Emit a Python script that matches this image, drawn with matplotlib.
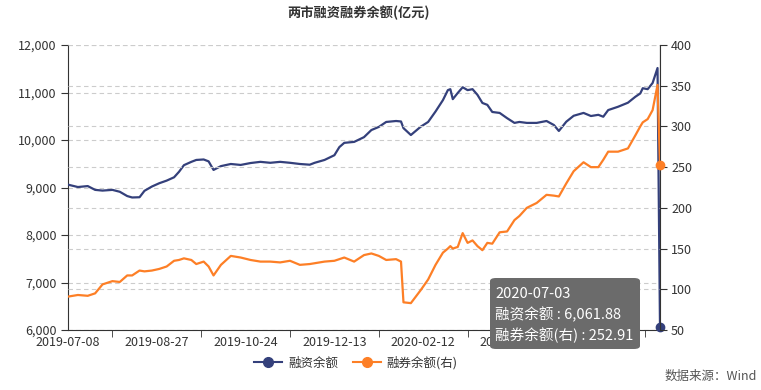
import numpy as np
import pandas as pd
import matplotlib
matplotlib.use("Agg")
import matplotlib.pyplot as plt
from matplotlib.lines import Line2D
from matplotlib.patches import FancyBboxPatch

plt.rcParams['font.family'] = ['Noto Sans CJK SC', 'DejaVu Sans']

# trading calendar (SSE/SZSE) 2019-07-08 .. 2020-07-03
holidays = ["2019-09-13", "2019-10-01", "2019-10-02", "2019-10-03", "2019-10-04",
            "2019-10-07", "2020-01-01", "2020-01-24", "2020-01-27", "2020-01-28",
            "2020-01-29", "2020-01-30", "2020-01-31", "2020-04-06", "2020-05-01",
            "2020-05-04", "2020-05-05", "2020-06-25", "2020-06-26"]
days = pd.bdate_range("2019-07-08", "2020-07-03")
days = days[~days.isin(pd.to_datetime(holidays))]
dates = [d.strftime("%Y-%m-%d") for d in days]

# values at these trading-day positions
day_idx = [0, 4, 8, 11, 14, 18, 21, 24, 26, 29, 31, 34, 37, 40, 43, 45, 47, 50,
           52, 55, 57, 59, 62, 66, 70, 74, 78, 82, 86, 90, 94, 98, 100, 104, 108,
           110, 112, 116, 120, 123, 126, 129, 133, 135, 136, 139, 143, 146, 149,
           152, 154, 155, 156, 158, 160, 162, 164, 166, 168, 170, 172, 175, 178,
           181, 183, 186, 190, 194, 197, 199, 202, 205, 209, 212, 215, 217, 219,
           223, 227, 230, 232, 233, 235, 237, 239, 240]
margin = [9060, 9010, 9030, 8950, 8935, 8950, 8910, 8820, 8790, 8795, 8930, 9020,
          9090, 9145, 9215, 9330, 9470, 9540, 9580, 9590, 9550, 9370, 9450, 9495,
          9475, 9515, 9540, 9520, 9540, 9520, 9495, 9480, 9520, 9580, 9680, 9850,
          9940, 9960, 10060, 10210, 10275, 10380, 10400, 10390, 10250, 10105, 10280,
          10380, 10600, 10840, 11050, 11070, 10860, 10990, 11110, 11050, 11070,
          10950, 10780, 10740, 10590, 10570, 10460, 10360, 10380, 10360, 10360,
          10400, 10315, 10190, 10385, 10510, 10570, 10505, 10530, 10490, 10630,
          10700, 10785, 10910, 10980, 11090, 11070, 11200, 11515, 6061.88]
short = [91, 93, 92, 95, 106, 110, 109, 117, 117, 123, 122, 123, 125, 128, 135,
         136, 138, 136, 131, 134, 128, 117, 130, 141, 139, 136, 134, 134, 133, 135,
         130, 131, 132, 134, 135, 137, 139, 134, 142, 144, 141, 136, 137, 134, 84,
         83, 99, 112, 130, 145, 150, 153, 150, 152, 169, 157, 160, 153, 148, 157,
         156, 170, 171, 185, 190, 200, 206, 216, 215, 214, 230, 245, 256, 250, 250,
         259, 269, 269, 273, 289, 300, 305, 309, 320, 351, 252.91]

label_idx = [0, 36, 72, 108, 144, 180, 216]
tick_idx = [18, 54, 90, 126, 162, 198, 234]

BLUE = '#34407b'
ORANGE = '#fd7f26'
GRID = '#cccccc'
TXT = '#333333'

fig = plt.figure(figsize=(7.61, 3.90), dpi=100)
ax = fig.add_axes([68 / 761, 60 / 390, 592 / 761, 285 / 390])
ax2 = ax.twinx()

ax.set_xlim(0, len(dates) - 1)
ax.set_ylim(6000, 12000)
ax2.set_ylim(50, 400)
ax.set_yticks(np.arange(6000, 12001, 1000))
ax2.set_yticks(np.arange(50, 401, 50))
ax.yaxis.set_major_formatter(plt.FuncFormatter(lambda v, p: f"{v:,.0f}"))

for a in (ax, ax2):
    a.grid(axis='y', color=GRID, linestyle=(0, (4, 3)), linewidth=0.8)
    a.set_axisbelow(True)
    for s in ('top',):
        a.spines[s].set_visible(False)
ax.spines['right'].set_visible(False)
ax2.spines['left'].set_visible(False)
ax2.spines['bottom'].set_visible(False)
for s in ('left', 'bottom'):
    ax.spines[s].set_color(TXT)
ax2.spines['right'].set_color(TXT)

ax.set_xticks(label_idx)
ax.set_xticklabels([dates[i] for i in label_idx])
ax.set_xticks(tick_idx, minor=True)
ax.tick_params(axis='x', which='major', length=0, pad=4, labelsize=9, labelcolor=TXT)
ax.tick_params(axis='x', which='minor', length=5, color=TXT)
ax.tick_params(axis='y', length=5, color=TXT, labelsize=9, labelcolor=TXT, pad=3)
ax2.tick_params(axis='y', length=5, color=TXT, labelsize=9, labelcolor=TXT, pad=3)

# axis pointer at the hovered date
ax.axvline(len(dates) - 1, color='#aaaaaa', lw=1, zorder=1)

ax.plot(day_idx, margin, color=BLUE, lw=1.6, zorder=3)
ax2.plot(day_idx, short, color=ORANGE, lw=1.6, zorder=3)
ax.plot(day_idx[-1], margin[-1], 'o', color=BLUE, ms=6, zorder=5, clip_on=False)
ax2.plot(day_idx[-1], short[-1], 'o', color=ORANGE, ms=6, zorder=5, clip_on=False)

fig.text(358 / 761, 1 - 13 / 390, "两市融资融券余额(亿元)", ha='center', va='center',
         fontsize=9.5, fontweight='bold', color=TXT)

handles = [Line2D([], [], color=BLUE, marker='o', ms=7, lw=1.5),
           Line2D([], [], color=ORANGE, marker='o', ms=7, lw=1.5)]
fig.legend(handles, ["融资余额", "融券余额(右)"], loc='center',
           bbox_to_anchor=(356 / 761, 1 - 363 / 390), ncol=2, frameon=False,
           fontsize=9, handlelength=2.2, columnspacing=1.2, handletextpad=0.5,
           labelcolor=TXT)

fig.text(757 / 761, 1 - 376 / 390, "数据来源：Wind", ha='right', va='center',
         fontsize=9, color='#555555')

# tooltip
box = FancyBboxPatch((490 / 761, 1 - 349 / 390), 150 / 761, 71 / 390,
                     boxstyle="round,pad=0,rounding_size=0.008",
                     transform=fig.transFigure, facecolor='#6b6b6b',
                     edgecolor='none', zorder=10)
fig.patches.append(box)
tip = ["2020-07-03",
       f"融资余额 : {margin[-1]:,.2f}",
       f"融券余额(右) : {short[-1]:,.2f}"]
for k, line in enumerate(tip):
    fig.text(495 / 761, 1 - (294 + 20.5 * k) / 390, line, ha='left', va='center',
             fontsize=10.5, color='white', zorder=11)

fig.savefig("out.png", dpi=100)
